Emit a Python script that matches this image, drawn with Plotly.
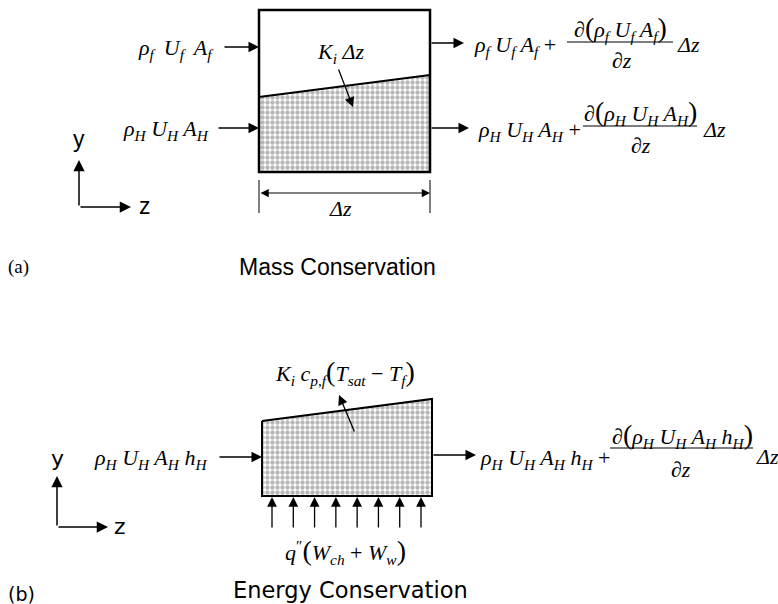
import plotly.graph_objects as go

# ---------------- content (text of the diagram) ----------------
panel_tags = ["(a)", "(b)"]
panel_titles = ["Mass Conservation", "Energy Conservation"]
axis_names = ["y", "z"]

BIGL = '<span style="font-size:28px">(</span>'
BIGR = '<span style="font-size:28px">)</span>'
SP = "\u2009"

mass_inflow = [f"<i>ρ<sub>f</sub> {SP}U<sub>f</sub> {SP}A<sub>f</sub></i>",
               "<i>ρ<sub>H</sub> U<sub>H</sub> A<sub>H</sub></i>"]
mass_outflow = ["<i>ρ<sub>f</sub> U<sub>f</sub> A<sub>f</sub></i> +",
                "<i>ρ<sub>H</sub> U<sub>H</sub> A<sub>H</sub></i> +"]
mass_numer = ["<i>∂</i>" + BIGL + "<i>ρ<sub>f</sub> U<sub>f</sub> A<sub>f</sub></i>" + BIGR,
              "<i>∂</i>" + BIGL + "<i>ρ<sub>H</sub> U<sub>H</sub> A<sub>H</sub></i>" + BIGR]
denom = "<i>∂z</i>"
dz = "<i>Δz</i>"
interface_mass = "<i>K<sub>i</sub> Δz</i>"

energy_inflow = "<i>ρ<sub>H</sub> U<sub>H</sub> A<sub>H</sub> h<sub>H</sub></i>"
energy_outflow = "<i>ρ<sub>H</sub> U<sub>H</sub> A<sub>H</sub> h<sub>H</sub></i> +"
energy_numer = "<i>∂</i>" + BIGL + "<i>ρ<sub>H</sub> U<sub>H</sub> A<sub>H</sub> h<sub>H</sub></i>" + BIGR
interface_energy = ("<i>K<sub>i</sub> c<sub>p,f</sub></i>" + BIGL +
                    "<i>T<sub>sat</sub></i> − <i>T<sub>f</sub></i>" + BIGR)
heat_flux = "<i>q</i><sup>″</sup>" + BIGL + "<i>W<sub>ch</sub></i> + <i>W<sub>w</sub></i>" + BIGR
n_heat_arrows = 8

# ---------------- layout helpers ----------------
W, H = 778, 604
SERIF = "Liberation Serif"
SANS = "Liberation Sans"
DSANS = "DejaVu Sans"
FS = 22

fig = go.Figure()


def arrow(x0, y0, x1, y1, both=False, width=1.4, size=1.5):
    fig.add_annotation(x=x1, y=y1, ax=x0, ay=y0, xref="x", yref="y",
                       axref="x", ayref="y", text="", showarrow=True,
                       arrowhead=2, arrowsize=size, arrowwidth=width,
                       arrowcolor="black",
                       arrowside="end+start" if both else "end",
                       startarrowhead=2, startarrowsize=size)


def line(x0, y0, x1, y1, w=1.2):
    fig.add_shape(type="line", x0=x0, y0=y0, x1=x1, y1=y1,
                  line=dict(color="black", width=w))


def text(x, y, s, size=FS, family=SERIF, xanchor="center", yanchor="middle"):
    fig.add_annotation(x=x, y=y, xref="x", yref="y", text=s, showarrow=False,
                       xanchor=xanchor, yanchor=yanchor,
                       font=dict(family=family, size=size, color="black"))


def shaded(xs, ys, outline=False):
    fig.add_trace(go.Scatter(
        x=xs, y=ys, fill="toself", mode="lines",
        line=dict(color="black" if outline else "rgba(0,0,0,0)",
                  width=2 if outline else 0),
        fillcolor="white",
        fillpattern=dict(shape=".", fgcolor="#707070", bgcolor="white",
                         size=5, solidity=0.6),
        hoverinfo="skip"))


# ---------------- (a) mass conservation ----------------
bx0, bx1, by0, by1 = 259, 430, 10, 172
shaded([bx0, bx1, bx1, bx0, bx0], [97, 75, by1, by1, 97])
fig.add_shape(type="rect", x0=bx0, y0=by0, x1=bx1, y1=by1,
              line=dict(color="black", width=2.5))
line(bx0, 97, bx1, 75, 1.8)
text(340, 53, interface_mass)
arrow(338, 68, 353, 107, width=1.3)

line(bx0, 180, bx0, 213, 1)
line(bx1, 180, bx1, 213, 1)
arrow(bx0, 193, bx1, 193, both=True, width=1.1)
text(340, 208, dz)

arrow(223, 47, bx0, 47)
text(216, 49, mass_inflow[0], xanchor="right")
arrow(217, 128, bx0, 128)
text(211, 130, mass_inflow[1], xanchor="right")

arrow(bx1, 43, 464, 43)
text(472, 46, mass_outflow[0], xanchor="left")
line(567, 42, 673, 42, 1.1)
text(620, 28, mass_numer[0])
text(622, 60, denom)
text(675, 44, dz, xanchor="left")

arrow(bx1, 128, 469, 128)
text(476, 131, mass_outflow[1], xanchor="left")
line(583, 126, 697, 126, 1.1)
text(640, 112, mass_numer[1])
text(641, 145, denom)
text(701, 129, dz, xanchor="left")

arrow(79, 207, 79, 160, width=1.5)
arrow(79, 207, 131, 207, width=1.5)
text(79, 139, axis_names[0], size=23, family=SANS)
text(137, 206, axis_names[1], size=23, family=SANS, xanchor="left")

text(6, 267, panel_tags[0], size=19, family=SERIF, xanchor="left")
text(237, 267, panel_titles[0], size=23, family=SANS, xanchor="left")

# ---------------- (b) energy conservation ----------------
tx0, tx1, tyl, tyr, tyb = 262, 432, 421, 399, 496
shaded([tx0, tx1, tx1, tx0, tx0], [tyl, tyr, tyb, tyb, tyl], outline=True)
arrow(355, 433, 339, 395, width=1.3)
text(345, 372, interface_energy)

step = (421 - 272) / (n_heat_arrows - 1)
for k in range(n_heat_arrows):
    xk = 272 + k * step
    arrow(xk, 529, xk, 497, width=1.3)
text(345, 551, heat_flux)

arrow(218, 457, tx0, 457)
text(209, 459, energy_inflow, xanchor="right")

arrow(tx1, 455, 476, 455)
text(478, 459, energy_outflow, xanchor="left")
line(610, 448, 753, 448, 1.1)
text(682, 435, energy_numer)
text(681, 469, denom)
text(754, 456, dz, xanchor="left")

arrow(57, 527, 57, 476, width=1.5)
arrow(57, 527, 108, 527, width=1.5)
text(57, 458, axis_names[0], size=22, family=DSANS)
text(112, 526, axis_names[1], size=22, family=DSANS, xanchor="left")

text(6, 594, panel_tags[1], size=19, family=DSANS, xanchor="left")
text(231, 590, panel_titles[1], size=22.5, family=DSANS, xanchor="left")

fig.update_layout(
    width=W, height=H, margin=dict(l=0, r=0, t=0, b=0),
    paper_bgcolor="white", plot_bgcolor="white", showlegend=False,
    xaxis=dict(range=[0, W], visible=False, fixedrange=True),
    yaxis=dict(range=[H, 0], visible=False, fixedrange=True),
)

fig.write_html("out.html",
               config={"displayModeBar": False, "staticPlot": True},
               post_script="document.body.style.margin='0';"
                           "document.body.style.overflow='hidden';")
